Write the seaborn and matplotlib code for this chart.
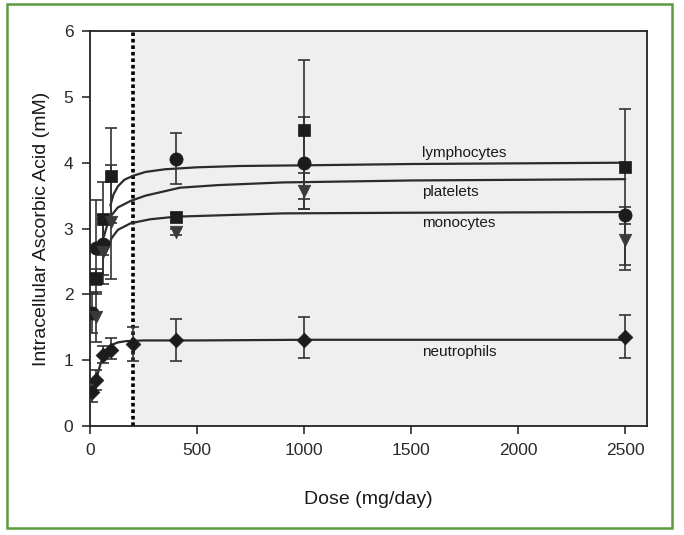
import numpy as np
import pandas as pd
import matplotlib
matplotlib.use("Agg")
import matplotlib.pyplot as plt
import seaborn as sns
from matplotlib.patches import Rectangle

# ---------------- data ----------------
circle_dose = [10, 30, 60, 400, 1000, 2500]
circle_val = [1.72, 2.70, 2.77, 4.05, 4.00, 3.20]
circle_lo = [1.42, 2.00, 2.30, 3.67, 3.30, 2.37]
circle_hi = [2.02, 3.43, 3.20, 4.45, 4.70, 3.32]

square_dose = [30, 60, 100, 400, 1000, 2500]
square_val = [2.25, 3.15, 3.80, 3.17, 4.50, 3.93]
square_lo = [2.14, 2.60, 3.08, 3.10, 3.45, 3.07]
square_hi = [2.38, 3.70, 4.52, 3.24, 5.56, 4.81]

triangle_dose = [30, 60, 100, 400, 1000, 2500]
triangle_val = [1.66, 2.65, 3.10, 2.95, 3.57, 2.83]
triangle_lo = [1.28, 2.15, 2.24, 2.90, 3.30, 2.45]
triangle_hi = [2.04, 3.15, 3.97, 3.00, 3.85, 3.25]

diamond_dose = [10, 30, 60, 100, 200, 400, 1000, 2500]
diamond_val = [0.51, 0.70, 1.08, 1.16, 1.25, 1.30, 1.31, 1.35]
diamond_lo = [0.36, 0.55, 0.95, 1.02, 0.99, 0.99, 1.03, 1.04]
diamond_hi = [0.65, 0.85, 1.22, 1.34, 1.50, 1.63, 1.65, 1.69]

# fitted curves
lymph_curve_dose = [95, 110, 130, 160, 200, 260, 350, 500, 700, 1000, 1500, 2000, 2500]
lymph_curve_val = [3.35, 3.52, 3.64, 3.74, 3.80, 3.86, 3.90, 3.93, 3.95, 3.96, 3.98, 3.99, 4.00]
plate_curve_dose = [65, 80, 100, 130, 190, 260, 420, 600, 900, 1500, 2500]
plate_curve_val = [2.88, 3.05, 3.20, 3.32, 3.42, 3.50, 3.62, 3.66, 3.70, 3.73, 3.75]
mono_curve_dose = [70, 85, 100, 130, 190, 280, 400, 600, 900, 1500, 2500]
mono_curve_val = [2.60, 2.72, 2.85, 2.98, 3.08, 3.14, 3.18, 3.20, 3.23, 3.24, 3.25]
neut_curve_dose = [10, 20, 30, 45, 60, 80, 100, 130, 170, 250, 500, 1000, 2500]
neut_curve_val = [0.48, 0.60, 0.72, 0.90, 1.05, 1.17, 1.23, 1.27, 1.29, 1.30, 1.30, 1.31, 1.31]

curve_labels = ["lymphocytes", "platelets", "monocytes", "neutrophils"]
label_pos_val = [4.14, 3.56, 3.09, 1.13]
label_dose = 1550

x_ticks = [0, 500, 1000, 1500, 2000, 2500]
y_ticks = [0, 1, 2, 3, 4, 5, 6]
threshold_dose = 200

# ---------------- figure ----------------
sns.set_theme(style="ticks")
plt.rcParams['font.family'] = ['Liberation Sans', 'DejaVu Sans']

fig = plt.figure(figsize=(6.84, 5.35), dpi=100)
ax = fig.add_axes([0.1316, 0.2037, 0.8139, 0.7383])

xmax = 2600
ax.set_xlim(0, xmax)
ax.set_ylim(0, 6)

# shaded region
ax.axvspan(threshold_dose, xmax, color="#efefef", zorder=0, lw=0)
ax.axvline(threshold_dose, color="black", ls=(0, (1, 0.8)), lw=2.6, zorder=1)

curves = pd.concat([
    pd.DataFrame({"dose": lymph_curve_dose, "val": lymph_curve_val, "cell": "lymphocytes"}),
    pd.DataFrame({"dose": plate_curve_dose, "val": plate_curve_val, "cell": "platelets"}),
    pd.DataFrame({"dose": mono_curve_dose, "val": mono_curve_val, "cell": "monocytes"}),
    pd.DataFrame({"dose": neut_curve_dose, "val": neut_curve_val, "cell": "neutrophils"}),
])
sns.lineplot(data=curves, x="dose", y="val", units="cell", estimator=None,
             color="#2b2b2b", lw=1.6, ax=ax, sort=False, zorder=2, legend=False)

series = [
    (circle_dose, circle_val, circle_lo, circle_hi, "o", "#1c1c1c", 9.5),
    (square_dose, square_val, square_lo, square_hi, "s", "#1c1c1c", 8),
    (triangle_dose, triangle_val, triangle_lo, triangle_hi, "v", "#3a3a3a", 9),
    (diamond_dose, diamond_val, diamond_lo, diamond_hi, "D", "#1c1c1c", 7.5),
]
for d, v, lo, hi, m, c, s in series:
    v_arr = np.array(v)
    yerr = [v_arr - np.array(lo), np.array(hi) - v_arr]
    ax.errorbar(d, v, yerr=yerr, fmt="none", ecolor="#333333", elinewidth=1.2,
                capsize=4, capthick=1.2, zorder=3)
    df = pd.DataFrame({"dose": d, "val": v})
    sns.scatterplot(data=df, x="dose", y="val", marker=m, color=c, s=s ** 2,
                    edgecolor=c, linewidth=0.5, ax=ax, zorder=4, legend=False)

for lab, yv in zip(curve_labels, label_pos_val):
    ax.text(label_dose, yv, lab, fontsize=11, color="#1a1a1a", va="center", ha="left")

ax.set_xticks(x_ticks)
ax.set_yticks(y_ticks)
ax.tick_params(axis="both", direction="out", length=6, width=1.2, labelsize=12.5,
               colors="#2a2a2a", pad=6)
for sp in ax.spines.values():
    sp.set_visible(True)
    sp.set_color("#222222")
    sp.set_linewidth(1.3)

ax.set_xlabel("Dose (mg/day)", fontsize=14, color="#1a1a1a", labelpad=24)
ax.set_ylabel("Intracellular Ascorbic Acid (mM)", fontsize=14, color="#1a1a1a", labelpad=10)

# green outer frame
fig.patches.append(Rectangle((7 / 684, 7 / 535), 665 / 684, 524 / 535,
                             transform=fig.transFigure, fill=False,
                             edgecolor="#5b9b3e", lw=1.8))

fig.savefig("out.png", dpi=100)
